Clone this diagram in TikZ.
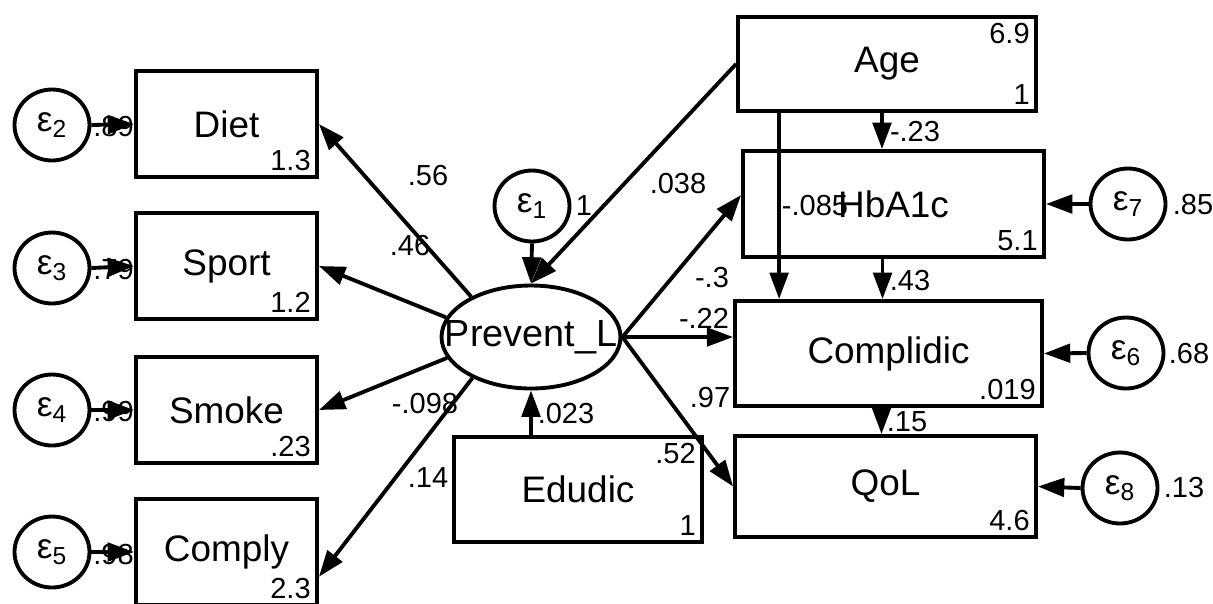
\documentclass[tikz,border=0pt]{standalone}
\usepackage{fontspec}
\setmainfont{Liberation Sans}
\usetikzlibrary{arrows.meta,shapes.geometric,calc}

\tikzset{
  obs/.style={draw, rectangle, line width=2.2pt, inner sep=0pt, font=\fontsize{21}{25}\selectfont},
  lat/.style={draw, ellipse, line width=2.2pt, inner xsep=-0.7cm, inner ysep=-0.3cm, minimum width=3.58cm, minimum height=2.06cm, font=\fontsize{21.5}{25}\selectfont},
  err/.style={draw, ellipse, line width=2.2pt, inner sep=0pt, minimum width=1.5cm, minimum height=1.42cm, font=\fontsize{20}{24}\selectfont},
  val/.style={inner sep=4.5pt, font=\fontsize{16.5}{19}\selectfont},
  coef/.style={inner sep=0pt, font=\fontsize{16.5}{19}\selectfont},
  arr/.style={->, line width=2.2pt},
}
\newcommand{\eps}[1]{ε\textsubscript{#1}}

\begin{document}
\begin{tikzpicture}[x=0.02cm, y=-0.02cm, >={Triangle[length=15pt,width=10.5pt]}]
	\clip (0,0) rectangle (1213,603);
	
	% left block
	\node[obs, minimum width=3.62cm, minimum height=2.12cm, label={[val,anchor=south east]south east:1.3}] (diet) at (226.5,124) {Diet};
	\node[obs, minimum width=3.62cm, minimum height=2.12cm, label={[val,anchor=south east]south east:1.2}] (sport) at (226.5,266) {Sport};
	\node[obs, minimum width=3.62cm, minimum height=2.12cm, label={[val,anchor=south east]south east:.23}] (smoke) at (226.5,410) {Smoke};
	\node[obs, minimum width=3.62cm, minimum height=2.12cm, label={[val,anchor=south east]south east:2.3}] (comply) at (226.5,552) {Comply};
	\node[err] (e2) at (52,125) {\eps{2}};
	\node[err] (e3) at (52,268) {\eps{3}};
	\node[err] (e4) at (52,410) {\eps{4}};
	\node[err] (e5) at (52,552) {\eps{5}};
	
	% latent
	\node[lat] (prev) at (531,337) {Prevent\_L};
	\node[err] (e1) at (532,206) {\eps{1}};
	\node[obs, minimum width=4.96cm, minimum height=2.1cm, label={[val,anchor=south east]south east:1}, label={[val,anchor=north east]north east:.52}] (edu) at (578,489.5) {Edudic};
	
	% right block
	\node[obs, minimum width=5.96cm, minimum height=1.88cm, label={[val,anchor=south east]south east:1}, label={[val,anchor=north east]north east:6.9}] (age) at (887,64) {Age};
	\node[obs, minimum width=6.02cm, minimum height=2.12cm, label={[val,anchor=south east]south east:5.1}] (hba) at (893.5,204) {HbA1c};
	\node[obs, minimum width=6.14cm, minimum height=2.1cm, label={[val,anchor=south east]south east:.019}] (compl) at (888.5,353.5) {Complidic};
	\node[obs, minimum width=6.02cm, minimum height=2.02cm, label={[val,anchor=south east]south east:4.6}] (qol) at (885.5,486.5) {QoL};
	\node[err] (e7) at (1128,204) {\eps{7}};
	\node[err] (e6) at (1126,353) {\eps{6}};
	\node[err] (e8) at (1120,488) {\eps{8}};
	
	% coefficients
	\node[coef, anchor=west] (v2) at (93,127) {.89};
	\node[coef, anchor=west] (v3) at (93,270) {.79};
	\node[coef, anchor=west] (v4) at (93,412) {.99};
	\node[coef, anchor=west] (v5) at (93,555) {.98};
	\node[coef] (c56) at (428,176) {.56};
	\node[coef] (c46) at (410,246) {.46};
	\node[coef] (c098) at (425,404) {-.098};
	\node[coef] (c14) at (428,478) {.14};
	\node[coef] (c1) at (584,206) {1};
	\node[coef] (c038) at (678,184) {.038};
	\node[coef] (c3) at (712,278) {-.3};
	\node[coef] (c22) at (704,318) {-.22};
	\node[coef] (c97) at (710,398) {.97};
	\node[coef] (c023) at (566,414) {.023};
	\node[coef] (c23) at (915,132) {-.23};
	\node[coef] (c085) at (815,206) {-.085};
	\node[coef] (c43) at (910,281) {.43};
	\node[coef] (c15) at (907,422) {.15};
	\node[coef] (v7) at (1193,205) {.85};
	\node[coef] (v6) at (1189,354) {.68};
	\node[coef] (v8) at (1184,488) {.13};
	
	% paths
	\draw[arr] (e2.east) -- (diet.west);
	\draw[arr] (e3.east) -- (sport.west);
	\draw[arr] (e4.east) -- (smoke.west);
	\draw[arr] (e5.east) -- (comply.west);
	\draw[arr] (prev.146) -- (diet.east);
	\draw[arr] (prev.167) -- (sport.east);
	\draw[arr] (prev.194) -- (smoke.east);
	\draw[arr] (prev.215) -- (comply.-15);
	\draw[arr] (e1.south) -- (prev.north);
	\draw[arr] (age.west) -- (prev.north);
	\draw[arr] (prev.south |- edu.north) -- (prev.south);
	\draw[arr] (prev.east) -- ($(hba.west)+(0,-9)$);
	\draw[arr] (prev.east) -- (prev.east -| compl.west);
	\draw[arr] (prev.east) -- (qol.west);
	\draw[arr] ($(age.south)+(-5,0)$) coordinate (ah) -- (ah |- hba.north);
	\draw[arr] ($(age.south west)+(43,0)$) coordinate (ac) -- (ac |- compl.north);
	\draw[arr] ($(hba.south)+(-11,0)$) coordinate (hc) -- (hc |- compl.north);
	\draw[arr] ($(compl.south)+(-7,0)$) coordinate (cq) -- (cq |- qol.north);
	\draw[arr] (e7.west) -- (hba.east);
	\draw[arr] (e6.west) -- (compl.east);
	\draw[arr] (e8.west) -- (qol.east);
\end{tikzpicture}
\end{document}
